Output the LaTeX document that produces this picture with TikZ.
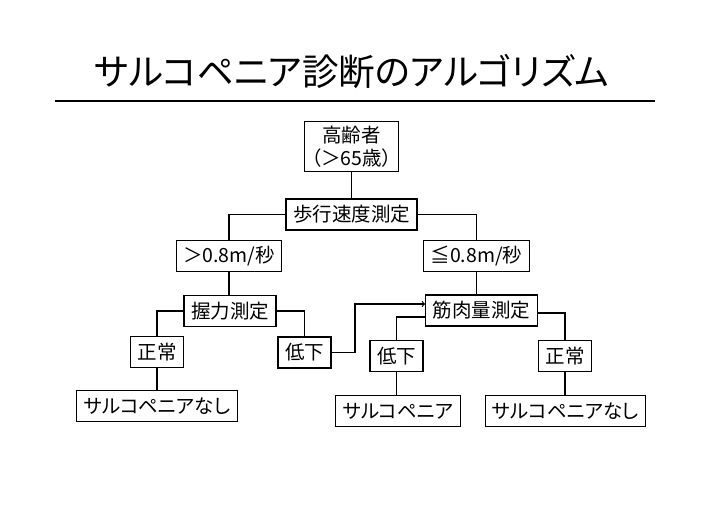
\documentclass[tikz,border=0pt]{standalone}
\usepackage{fontspec}
\setmainfont[RawFeature=+palt]{Noto Sans CJK JP}
\usepackage{tikz}
\def\boxheight{31pt}

\begin{document}
\begin{tikzpicture}[x=1pt,y=-1pt,->,line width=1.2pt]
    \tikzstyle{every path}=[-]
    \tikzstyle{step box}=[draw,rectangle,minimum height=\boxheight,inner xsep=7pt,inner ysep=2pt,font=\fontsize{19.5}{23}\selectfont]
    \tikzstyle{title}=[font=\fontsize{36.5}{42}\selectfont]

    \useasboundingbox (0,0) rectangle (702,510);

    % Title with the rule under it
    \node[title] (head) at (352,72) {サルコペニア診断のアルゴリズム};
    \coordinate (rule-l) at (55,101);
    \coordinate (rule-r) at (655,101);
    \draw[line width=2.2pt] (rule-l) -- (rule-r);

    % Draw the first two levels
    \node[step box,align=center,inner ysep=4pt] (elder) at (351.5,146.5) {高齢者\\（＞65歳）};
    \node[step box] (walk) at (351.5,214.5) {歩行速度測定};
    \node[step box] (fast) at (229,256) {＞0.8m/秒};
    \node[step box] (slow) at (476.5,256) {≦0.8m/秒};

    % Draw the measurement boxes
    \node[step box] (grip) at (230,311) {握力測定};
    \node[step box] (muscle) at (481.5,310.5) {筋肉量測定};

    % Draw the results of the measurements
    \node[step box] (gnorm) at (157,352) {正常};
    \node[step box] (glow) at (304.5,352.5) {低下};
    \node[step box] (mlow) at (396.5,356) {低下};
    \node[step box] (mnorm) at (565,356) {正常};

    % Draw the diagnoses
    \node[step box] (gnone) at (157,406) {サルコペニアなし};
    \node[step box] (sarco) at (398,411) {サルコペニア};
    \node[step box] (mnone) at (565.5,411) {サルコペニアなし};

    % Straight lines down
    \foreach \source / \dest in {elder/walk,fast/grip,slow/muscle,gnorm/gnone,mlow/sarco,mnorm/mnone}
        \draw (\source.south) -- (\source.south |- \dest.north);

    % Branch to both sides
    \draw (walk.west) -| (fast.north);
    \draw (walk.east) -| (slow.north);
    \draw (grip.west) -| (gnorm.north);
    \draw (grip.east) -| (glow.north);
    \draw ([yshift=-6.5pt]muscle.west) -| (mlow.north);
    \draw ([yshift=-2.5pt]muscle.east) -| (mnorm.north);

    % Low grip goes on to the muscle measurement
    \coordinate (bend) at (355,304);
    \draw[->] (glow.east) -| (bend) -- (bend -| muscle.west);
\end{tikzpicture}
\end{document}
